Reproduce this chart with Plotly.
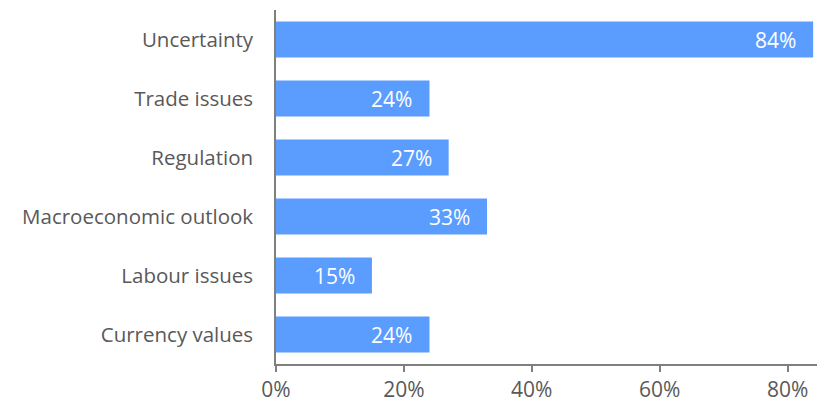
import plotly.graph_objects as go

# Share of respondents citing each concern
categories = ["Uncertainty", "Trade issues", "Regulation",
              "Macroeconomic outlook", "Labour issues", "Currency values"]
shares = [84, 24, 27, 33, 15, 24]
tick_vals = [0, 20, 40, 60, 80]
tick_text = ["0%", "20%", "40%", "60%", "80%"]

bar_color = "#5B9CFF"
grey = "#595959"
font_family = "Open Sans, Noto Sans, sans-serif"

fig = go.Figure(
    go.Bar(
        x=shares,
        y=categories,
        orientation="h",
        marker=dict(color=bar_color, line=dict(width=0)),
        hoverinfo="skip",
    )
)

# Value labels inside the right end of each bar
for cat, val in zip(categories, shares):
    fig.add_annotation(
        x=val, y=cat, text=f"{val}%", showarrow=False,
        xanchor="right", xshift=-15,
        font=dict(family=font_family, size=21, color="white"),
    )

fig.update_layout(
    width=817, height=404,
    margin=dict(l=276, r=0, t=10, b=40),
    paper_bgcolor="white", plot_bgcolor="white",
    bargap=0.39,
    showlegend=False,
    font=dict(family=font_family, size=20, color=grey),
)
fig.update_yaxes(
    autorange="reversed",
    showline=True, linecolor="#7F7F7F", linewidth=1.5,
    ticks="", ticklabelstandoff=17, showgrid=False,
    tickfont=dict(size=20.5, color=grey),
)
fig.update_xaxes(
    range=[0, 84.6],
    tickvals=tick_vals, ticktext=tick_text,
    showline=True, linecolor="#7F7F7F", linewidth=1.5,
    ticks="outside", ticklen=6, tickcolor="#7F7F7F", tickwidth=1.5,
    showgrid=False, zeroline=False,
    tickfont=dict(size=21, color=grey),
)

fig.write_html("out.html")
